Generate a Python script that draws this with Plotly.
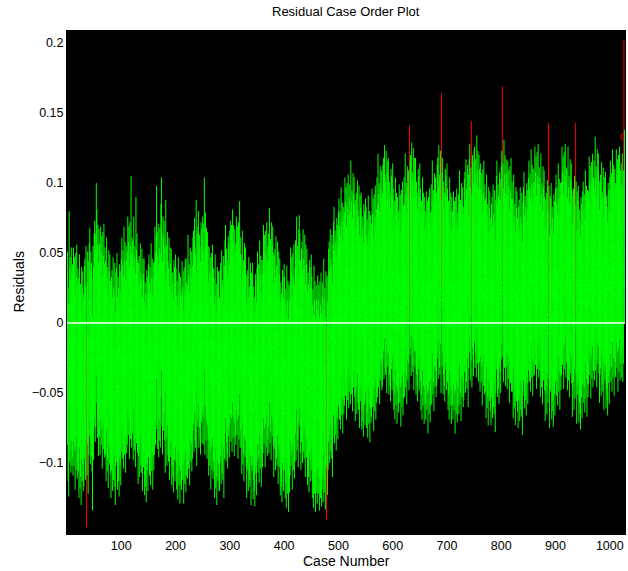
import plotly.graph_objects as go

# Residuals of the regression, in thousandths, listed in case order (10 per row)
residuals_milli = [
    -18, -44, -55, 11, -30, -22, -38, -15, -33, -27,
    -40, -15, -33, -22, -50, -19, -36, -13, -42, -30,
    -37, -56, -20, -49, -41, -61, -29, -44, -32, -51,
    -48, -28, -23, -43, -14, -77, -40, -18, -53, -25,
    -12, -1, -32, -18, -26, -37, -65, -14, -29, -5,
    4, -16, -5, 31, 12, -13, 1, -26, -2, -12,
    -25, 0, -18, -7, -35, -4, -21, 2, -27, -15,
    -25, -44, -8, -37, -29, -49, -17, -32, -20, -39,
    -56, -36, -31, -51, -22, -43, -48, -26, -61, -33,
    -30, -19, -50, -36, -44, -55, -27, -32, -47, -23,
    -8, -28, -17, -35, 0, -25, -11, -38, -14, -24,
    -18, 7, -11, 0, -28, 3, -14, 36, -20, -8,
    -10, -29, 7, -22, -14, -34, 21, -17, -5, -24,
    -46, -26, -21, -41, -12, -33, -38, -16, -51, -23,
    -34, -23, -54, -40, -48, -59, -31, -36, -51, -27,
    -20, -40, -29, -47, -12, -37, -23, -50, -26, -36,
    -25, 0, -18, -7, 29, -4, -21, 2, -27, -15,
    -1, -20, 16, 35, -5, -25, 7, -8, 4, -15,
    -38, 19, -13, -33, -4, -25, -30, -8, -43, -15,
    -27, -16, -47, -33, -41, -52, -24, -29, -44, -20,
    -30, -50, -39, -57, -22, -47, -33, -60, -36, -46,
    -50, -25, -43, -32, -60, -29, -46, -23, -52, -40,
    -23, -42, -6, -35, -27, -47, -15, -30, -18, -37,
    -28, -8, -3, -23, 6, -15, -20, 19, -33, -5,
    0, 11, -20, -6, -14, -25, 3, -2, -17, 7,
    2, -18, 35, -25, 10, -15, -1, -28, -4, -14,
    -40, -15, -33, -22, -50, -19, -36, -13, -42, -30,
    -37, -56, -20, -49, -41, -61, -29, -44, -32, -51,
    -51, -31, -26, -46, -17, -38, -43, -21, -56, -28,
    -10, 1, -30, -16, -24, -35, -7, -12, -27, -3,
    4, -16, 1, -23, 12, -13, 1, -26, -2, -12,
    -18, 7, -11, 0, -28, 3, -14, 18, -20, -8,
    -20, -39, -3, -32, -24, -44, -12, -27, -15, -34,
    -56, -36, -31, -51, -22, -43, -48, -26, -61, -33,
    -37, -26, -57, -43, -51, -62, -34, -39, -54, -30,
    -18, -38, -27, -45, -10, -35, -21, -48, -24, -34,
    -24, 1, -17, -6, -34, -3, -20, 3, -26, -14,
    -5, -24, 13, -17, -9, -29, 3, -12, 0, -19,
    -41, -21, -16, -36, -7, -28, -33, -11, -46, -18,
    -34, -23, -54, -40, -48, -59, -31, -36, -51, -27,
    -36, -56, -45, -63, -28, -53, -39, -66, -42, -52,
    -40, -15, -33, -22, -50, -19, -36, -13, -42, -30,
    -10, -29, 7, -22, -14, -34, -2, 8, -5, -24,
    -36, -16, -11, -31, -2, -23, -28, -6, -41, -13,
    -27, -16, -47, -33, -41, -52, -24, -29, -44, -20,
    -36, -56, -45, -63, -28, -53, -39, -66, -42, -52,
    -60, -35, -53, -42, -65, -39, -56, -33, -62, -50,
    -40, -59, -23, -52, -44, -64, -32, -72, -35, -54,
    -36, -16, -11, -31, -2, -23, -28, -6, -41, -13,
    3, 14, -17, -3, -11, -22, 6, 1, -14, 10,
    20, 0, 11, -7, 28, 3, 17, -10, 14, 4,
    10, 35, 17, 28, 0, 31, 14, 37, 8, 20,
    30, 11, 47, 18, 26, 6, 38, 23, 35, 16,
    -1, 19, 24, 4, 33, 12, 7, 29, -6, 22,
    13, 24, -7, 7, -1, -12, 16, 11, -4, 20,
    14, -6, 5, -13, 22, -3, 11, -16, 8, -2,
    2, 27, 9, 20, -8, 23, 6, 29, 0, 12,
    35, 16, 52, 23, 31, 11, 43, 28, 40, 21,
    24, 44, 49, 29, 58, 37, 32, 54, 19, 47,
    38, 49, 18, 32, 24, 13, 41, 36, 21, 45,
    27, 7, 18, 0, 35, 10, 24, -3, 21, 11,
    5, 30, 12, 23, -5, 26, 9, 32, 3, 15,
    35, 16, 52, 23, 31, 11, 43, 28, 40, 21,
    72, 46, 51, 31, 60, 39, 34, 56, 21, 49,
    38, 49, 18, 32, 24, 13, 41, 36, 21, 45,
    27, 7, 18, 0, 35, 10, 24, -3, 21, 11,
    0, 25, 7, 18, -10, 21, 4, 27, -2, 10,
    30, 11, 47, 18, 26, 6, 38, 23, 35, 16,
    24, 44, 49, 29, 58, 37, 32, 54, 19, 95,
    38, 49, 18, 32, 24, 13, 41, 36, 21, 45,
    27, 7, 18, 0, 35, 10, 24, -3, 21, 11,
    0, 25, 7, 18, -10, 21, 4, 27, -2, 10,
    23, 4, 40, 11, 19, -1, 31, 16, 28, 9,
    14, 34, 39, 19, 48, 27, 22, 44, 9, 37,
    48, 59, 28, 42, 75, 23, 51, 46, 31, 55,
    57, 37, 48, 30, 65, 40, 54, 27, 51, 41,
    20, 45, 27, 38, 10, 41, 24, 47, 18, 30,
    20, 1, 37, 8, 16, -4, 28, 13, 25, 6,
    -4, 16, 21, 1, 30, 9, 4, 26, -9, 19,
    36, 47, 16, 30, 22, 11, 39, 34, 19, 43,
    54, 100, 45, 27, 62, 37, 51, 24, 48, 38,
    22, 47, 29, 40, 12, 43, 26, 49, 20, 32,
    20, 1, 37, 8, 16, -4, 28, 13, 25, 6,
    -6, 14, 19, -1, 28, 7, 2, 24, -11, 17,
    28, 39, 8, 22, 14, 3, 31, 26, 11, 35,
    47, 27, 38, 20, 55, 30, 44, 17, 41, 31,
    32, 57, 39, 50, 22, 53, 36, 59, 30, 42,
    35, 16, 52, 23, 31, 11, 43, 28, 40, 21,
    -1, 19, 24, 4, 33, 12, 74, 29, -6, 22,
    20, 31, 0, 14, 6, -5, 23, 18, 3, 27,
    37, 17, 28, 10, 45, 20, 34, 7, 31, 21,
    32, 57, 39, 50, 22, 53, 36, 59, 30, 42,
    40, 21, 57, 28, 36, 16, 48, 33, 45, 26,
    2, 22, 27, 7, 36, 15, 74, 32, -3, 25,
    18, 29, -2, 12, 4, -7, 21, 16, 1, 25,
    32, 12, 23, 5, 40, 15, 29, 2, 26, 16,
    25, 50, 32, 43, 15, 46, 29, 52, 23, 35,
    47, 28, 64, 35, 43, 23, 55, 40, 52, 33,
    12, 32, 37, 17, 46, 25, 20, 42, 7, 35,
    28, 39, 8, 22, 14, 3, 31, 26, 11, 35,
    47, 27, 38, 20, 55, 30, 44, 17, 41, 31,
    30, 55, 37, 48, 20, 51, 34, 57, 28, 40,
    45, 30, 52, 27, 40, 133, 69,
]

# Half-width of each residual's 95% confidence interval
interval_halfwidth = 0.069

x_ticks = [100, 200, 300, 400, 500, 600, 700, 800, 900, 1000]
y_ticks = [-0.1, -0.05, 0, 0.05, 0.1, 0.15, 0.2]
y_tick_text = ["\u22120.1", "\u22120.05", "0", "0.05", "0.1", "0.15", "0.2"]

residuals = [v / 1000 for v in residuals_milli]
n_cases = len(residuals)
cases = list(range(1, n_cases + 1))
lower = [r - interval_halfwidth for r in residuals]
upper = [r + interval_halfwidth for r in residuals]
# A case is flagged when its interval does not contain zero
flagged = [lo > 0 or hi < 0 for lo, hi in zip(lower, upper)]


def interval_segments(keep):
    xs, ys = [], []
    for c, lo, hi, k in zip(cases, lower, upper, flagged):
        if k == keep:
            xs += [c, c, None]
            ys += [lo, hi, None]
    return xs, ys


GREEN = "#00ff00"
RED = "#ff0000"

gx, gy = interval_segments(False)
rx, ry = interval_segments(True)
g_pts = [(c, r) for c, r, k in zip(cases, residuals, flagged) if not k]
r_pts = [(c, r) for c, r, k in zip(cases, residuals, flagged) if k]

fig = go.Figure()
fig.add_trace(go.Scatter(
    x=[p[0] for p in g_pts], y=[p[1] for p in g_pts], mode="markers",
    marker=dict(symbol="circle-open", size=6, color=GREEN, line=dict(width=1)),
    hoverinfo="skip", showlegend=False))
fig.add_trace(go.Scatter(
    x=rx, y=ry, mode="lines", line=dict(color=RED, width=1),
    hoverinfo="skip", showlegend=False))
fig.add_trace(go.Scatter(
    x=[p[0] for p in r_pts], y=[p[1] for p in r_pts], mode="markers",
    marker=dict(symbol="circle-open", size=6, color=RED, line=dict(width=1)),
    hoverinfo="skip", showlegend=False))
fig.add_trace(go.Scatter(
    x=gx, y=gy, mode="lines", line=dict(color=GREEN, width=1),
    hoverinfo="skip", showlegend=False))
# zero reference line
fig.add_trace(go.Scatter(
    x=[0, n_cases + 1], y=[0, 0], mode="lines",
    line=dict(color="#ffffff", width=1.5),
    hoverinfo="skip", showlegend=False))

font = "Liberation Sans, Arial, sans-serif"
fig.update_layout(
    width=628, height=571,
    margin=dict(l=67, r=3, t=31, b=37),
    paper_bgcolor="white", plot_bgcolor="black",
    font=dict(family=font, size=12.5, color="black"),
    showlegend=False,
    xaxis=dict(range=[0, n_cases + 1], tickvals=x_ticks, ticks="", showgrid=False,
               zeroline=False, showline=True, linecolor="black", linewidth=1,
               mirror=True, tickfont=dict(size=12.5)),
    yaxis=dict(range=[-0.1507, 0.2086], tickvals=y_ticks, ticktext=y_tick_text,
               ticks="", showgrid=False, zeroline=False, showline=True,
               linecolor="black", linewidth=1, mirror=True,
               tickfont=dict(size=12.5)),
    annotations=[
        dict(text="Residual Case Order Plot", x=0.5, y=1, xref="paper", yref="paper",
             xanchor="center", yanchor="bottom", yshift=10, showarrow=False,
             font=dict(size=13)),
        dict(text="Case Number", x=0.5, y=0, xref="paper", yref="paper",
             xanchor="center", yanchor="top", yshift=-17, showarrow=False,
             font=dict(size=14)),
        dict(text="Residuals", x=0, y=0.5, xref="paper", yref="paper",
             xanchor="center", yanchor="middle", xshift=-49, textangle=-90,
             showarrow=False, font=dict(size=14)),
    ],
)

fig.write_html("out.html")
